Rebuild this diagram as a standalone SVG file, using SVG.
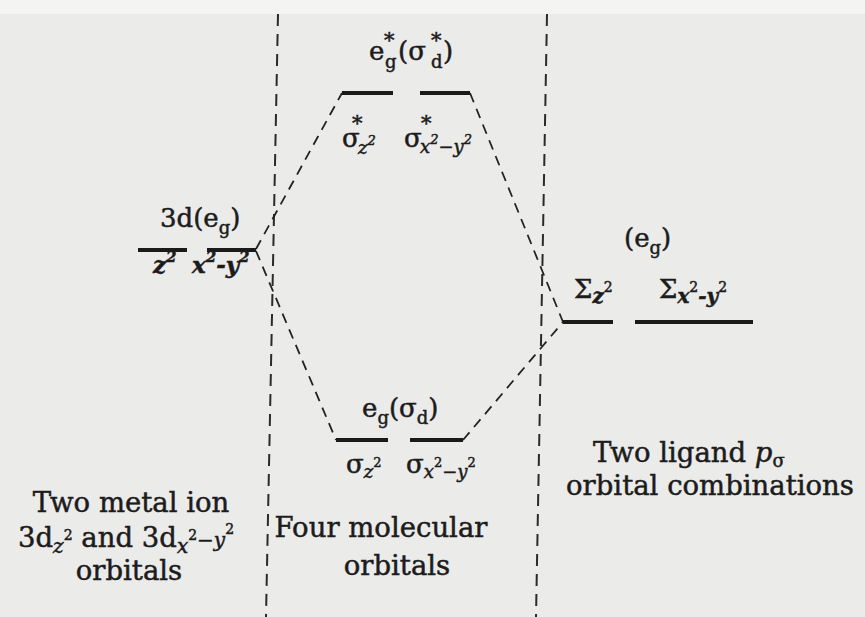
<svg xmlns="http://www.w3.org/2000/svg" width="865" height="617" viewBox="0 0 865 617">
<defs>
<style>
.bg{fill:#ebebea}
.t{font-family:"DejaVu Serif","Liberation Serif",serif;fill:#1c1c1c;stroke:#1c1c1c;stroke-width:0.5}
.cap{font-size:27.5px}
.lv{font-size:26px}
.sub{font-size:18px}
.sup{font-size:13px}
.star{font-size:21px}
.it{font-style:italic}
.bit{font-style:italic;font-weight:bold}
.bar{stroke:#1a1a1a;stroke-width:4;fill:none}
.dash{stroke:#222;stroke-width:1.8;stroke-dasharray:10 7;fill:none}
.vdash{stroke:#2a2a2a;stroke-width:2;stroke-dasharray:12 8;fill:none}
</style>
</defs>
<rect class="bg" x="0" y="0" width="865" height="617"/>
<rect x="0" y="0" width="865" height="14" fill="#f4f4f3"/>

<g id="dividers">
<line class="vdash" x1="278" y1="14" x2="266" y2="617"/>
<line class="vdash" x1="547" y1="14" x2="536" y2="617"/>
</g>

<g id="connectors">
<line class="dash" x1="256" y1="249" x2="342" y2="93"/>
<line class="dash" x1="256" y1="251" x2="336" y2="440"/>
<line class="dash" x1="470" y1="93" x2="563" y2="322"/>
<line class="dash" x1="463" y1="440" x2="563" y2="322"/>
</g>

<g id="metal-3d-eg">
<line class="bar" x1="138" y1="250" x2="187" y2="250"/>
<line class="bar" x1="207" y1="250" x2="256" y2="250"/>
<text class="t lv" x="160" y="227">3d(e<tspan class="sub" dy="7">g</tspan><tspan dy="-7">)</tspan></text>
<text class="t bit" font-size="23" x="153" y="273">z<tspan font-size="15" dy="-11">2</tspan></text>
<text class="t bit" font-size="23" x="192" y="273">x<tspan font-size="15" dy="-11">2</tspan><tspan dy="11">-y</tspan><tspan font-size="15" dy="-11">2</tspan></text>
</g>

<g id="mo-antibonding">
<line class="bar" x1="342" y1="93" x2="393" y2="93"/>
<line class="bar" x1="420" y1="93" x2="470" y2="93"/>
<text class="t lv" x="369" y="60">e</text>
<text class="t star" x="384" y="47">*</text>
<text class="t sub" x="385" y="68">g</text>
<text class="t lv" x="398" y="60">(σ</text>
<text class="t star" x="431" y="47">*</text>
<text class="t sub" x="431" y="68">d</text>
<text class="t lv" x="443" y="60">)</text>
<text class="t lv" x="342" y="147">σ</text>
<text class="t star" x="352" y="130">*</text>
<text class="t sub it" x="358" y="154">z<tspan class="sup" dy="-9">2</tspan></text>
<text class="t lv" x="404" y="147">σ</text>
<text class="t star" x="421" y="130">*</text>
<text class="t sub it" x="420" y="153">x<tspan class="sup" dy="-9">2</tspan><tspan dy="9">−y</tspan><tspan class="sup" dy="-9">2</tspan></text>
</g>

<g id="mo-bonding">
<line class="bar" x1="336" y1="440" x2="388" y2="440"/>
<line class="bar" x1="410" y1="440" x2="463" y2="440"/>
<text class="t lv" x="362" y="417">e<tspan class="sub" dy="7">g</tspan><tspan dy="-7">(σ</tspan><tspan class="sub" dy="7">d</tspan><tspan dy="-7">)</tspan></text>
<text class="t lv" x="346" y="473">σ<tspan class="sub it" dy="5">z</tspan><tspan class="sup" dy="-11">2</tspan></text>
<text class="t lv" x="406" y="473">σ<tspan class="sub it" dy="5">x</tspan><tspan class="sup" dy="-11">2</tspan><tspan class="sub it" dy="11">−y</tspan><tspan class="sup" dy="-11">2</tspan></text>
</g>

<g id="ligand-eg">
<line class="bar" x1="563" y1="322" x2="613" y2="322"/>
<line class="bar" x1="635" y1="322" x2="753" y2="322"/>
<text class="t lv" x="624" y="247">(e<tspan class="sub" dy="7">g</tspan><tspan dy="-7">)</tspan></text>
<text class="t lv" x="574" y="298">Σ<tspan class="bit" font-size="20" dy="5">z</tspan><tspan font-size="14" dy="-11">2</tspan></text>
<text class="t lv" x="659" y="298">Σ<tspan class="bit" font-size="20" dy="5">x</tspan><tspan font-size="14" dy="-11">2</tspan><tspan class="bit" font-size="20" dy="11">-y</tspan><tspan font-size="14" dy="-11">2</tspan></text>
</g>

<g id="caption-metal">
<text class="t cap" x="131" y="512" text-anchor="middle">Two metal ion</text>
<text class="t cap" x="18" y="547">3d<tspan class="it" font-size="20" dy="6">z</tspan><tspan font-size="14" dy="-13">2</tspan><tspan dy="7"> and 3d</tspan><tspan class="it" font-size="20" dy="6">x</tspan><tspan font-size="14" dy="-13">2</tspan><tspan font-size="20" dy="7">−</tspan><tspan class="it" font-size="20">y</tspan><tspan font-size="14" dy="-13">2</tspan></text>
<text class="t cap" x="129" y="580" text-anchor="middle">orbitals</text>
</g>

<g id="caption-mo">
<text class="t cap" x="381" y="537" text-anchor="middle">Four molecular</text>
<text class="t cap" x="397" y="575" text-anchor="middle">orbitals</text>
</g>

<g id="caption-ligand">
<text class="t cap" x="593" y="462">Two ligand  <tspan class="it">p</tspan><tspan font-size="18" dy="5">σ</tspan></text>
<text class="t cap" x="710" y="495" text-anchor="middle">orbital combinations</text>
</g>
</svg>
